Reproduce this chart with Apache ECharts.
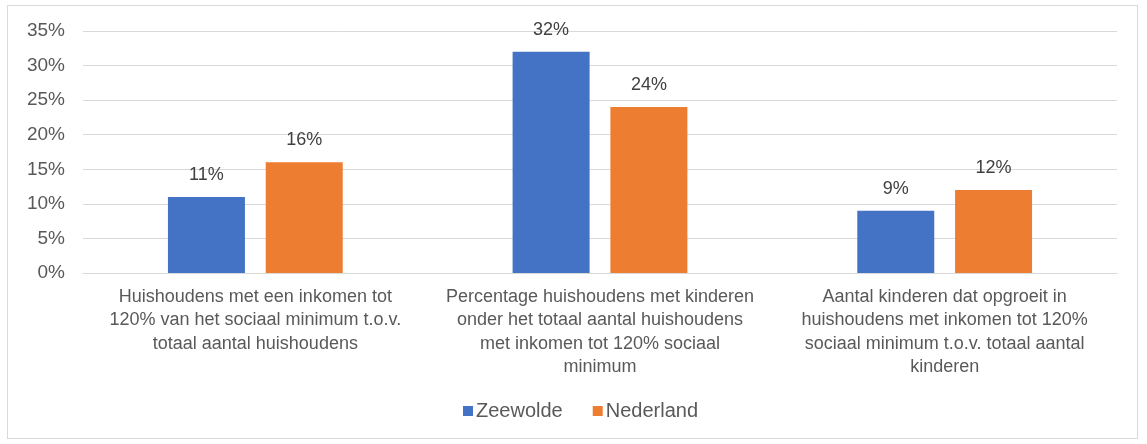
<!DOCTYPE html>
<html><head><meta charset="utf-8">
<script src="https://cdn.jsdelivr.net/npm/echarts@6/dist/echarts.min.js"></script>
<style>html,body{margin:0;padding:0;background:#fff}#c{width:1147px;height:444px}
#frame{position:absolute;left:7px;top:5px;width:1131px;height:434px;border:1px solid #d9d9d9;box-sizing:border-box;pointer-events:none}</style>
</head><body><div id="c"></div><div id="frame"></div>
<script>
const categories = [
  "Huishoudens met een inkomen tot\n120% van het sociaal minimum t.o.v.\ntotaal aantal huishoudens",
  "Percentage huishoudens met kinderen\nonder het totaal aantal huishoudens\nmet inkomen tot 120% sociaal\nminimum",
  "Aantal kinderen dat opgroeit in\nhuishoudens met inkomen tot 120%\nsociaal minimum t.o.v. totaal aantal\nkinderen"
];
const seriesNames = ["Zeewolde", "Nederland"];
const zeewolde = [11, 32, 9];
const nederland = [16, 24, 12];
const yTicks = [0, 5, 10, 15, 20, 25, 30, 35];

const font = "'Liberation Sans', Arial, sans-serif";
const chart = echarts.init(document.getElementById('c'));
const labelCfg = {show:true, position:'top', distance:13, formatter:p=>p.value+'%', color:'#404040', fontSize:18, fontFamily:font};
chart.setOption({
  animation:false,
  grid:{left:83, right:30, top:31, bottom:171, containLabel:false},
  legend:{data:seriesNames, top:396, left:458, itemWidth:10, itemHeight:10, itemGap:30, icon:'rect',
    textStyle:{color:'#595959', fontSize:20, fontFamily:font, padding:[0,0,0,-2]}},
  xAxis:{type:'category', data:categories,
    axisLine:{lineStyle:{color:'#d9d9d9'}}, axisTick:{show:false},
    axisLabel:{color:'#595959', fontSize:18, fontFamily:font, lineHeight:23.5, margin:12, interval:0}},
  yAxis:{type:'value', min:yTicks[0], max:yTicks[yTicks.length-1], interval:5,
    axisLine:{show:false}, axisTick:{show:false},
    splitLine:{lineStyle:{color:'#d9d9d9', width:1}},
    axisLabel:{formatter:v=>v+'%', color:'#595959', fontSize:19, fontFamily:font, margin:18}},
  series:[
    {name:seriesNames[0], type:'bar', data:zeewolde, barWidth:77, barGap:'27%', itemStyle:{color:'#4472c4'}, label:labelCfg},
    {name:seriesNames[1], type:'bar', data:nederland, barWidth:77, itemStyle:{color:'#ed7d31'}, label:labelCfg}
  ]
});
</script></body></html>
